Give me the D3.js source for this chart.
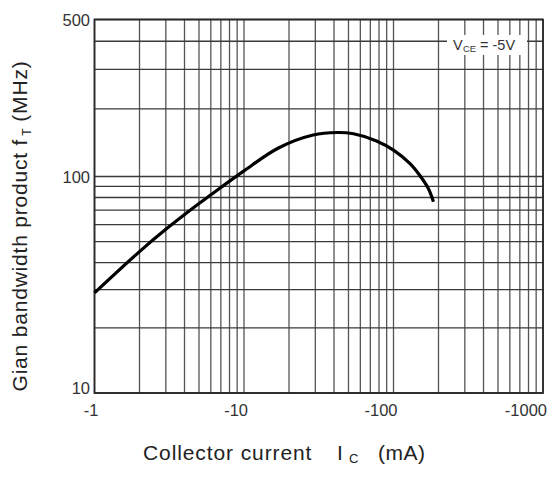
<!DOCTYPE html>
<html>
<head>
<meta charset="utf-8">
<script src="https://cdn.jsdelivr.net/npm/d3@7"></script>
<style>
  body { margin: 0; background: #fff; }
  svg { display: block; font-family: "Liberation Sans", Arial, sans-serif; }
</style>
</head>
<body>
<svg id="chart" width="550" height="478"></svg>
<script>
// collector current (mA, shown negative) vs transition frequency (MHz)
const currentMA = [1, 2, 3, 5, 7, 10, 17, 29, 42, 54, 77, 100, 129, 150, 171, 185]
const ftMHz = [29, 45, 57, 75, 89, 106, 134, 153, 157, 155, 144, 131, 114, 101, 88, 76.5]

const xTicks = [1, 10, 100, 1000]
const xTickLabels = ['-1', '-10', '-100', '-1000']
const yTicks = [10, 100, 500]
const yTickLabels = ['10', '100', '500']

const xGrid = []
for (let d = 1; d <= 100; d *= 10) {
  for (let k = 1; k <= 9; k++) xGrid.push(d * k)
}
xGrid.push(1000)
const yGrid = [10, 20, 30, 40, 50, 60, 70, 80, 90, 100, 200, 300, 400, 500]

const svg = d3.select('#chart')

const x = d3.scaleLog().domain([1, 1000]).range([94.5, 543])
const y = d3.scaleLog().domain([10, 100, 500]).range([393, 176.5, 19.5])

const grid = svg.append('g')
grid.selectAll('line.v')
  .data(xGrid)
  .enter().append('line')
  .attr('x1', d => x(d)).attr('x2', d => x(d))
  .attr('y1', y(500)).attr('y2', y(10))
  .attr('stroke', '#555')
  .attr('stroke-width', 1.3)

grid.selectAll('line.h')
  .data(yGrid)
  .enter().append('line')
  .attr('x1', x(1)).attr('x2', x(1000))
  .attr('y1', d => y(d)).attr('y2', d => y(d))
  .attr('stroke', '#3a3a3a')
  .attr('stroke-width', 1.3)

// frame
svg.append('rect')
  .attr('x', x(1)).attr('y', y(500))
  .attr('width', x(1000) - x(1)).attr('height', y(10) - y(500))
  .attr('fill', 'none')
  .attr('stroke', '#2a2a2a')
  .attr('stroke-width', 1.8)

// condition label with white box
svg.append('rect')
  .attr('x', 447).attr('y', 35)
  .attr('width', 80).attr('height', 20)
  .attr('fill', '#fff')

const condY = 49.5
svg.append('text')
  .attr('x', 453).attr('y', condY)
  .attr('font-size', 14.5).attr('fill', '#333')
  .text('V')
svg.append('text')
  .attr('x', 463).attr('y', condY + 2)
  .attr('font-size', 9.5).attr('fill', '#333')
  .text('CE')
svg.append('text')
  .attr('x', 480).attr('y', condY)
  .attr('font-size', 14.5).attr('fill', '#333')
  .text('= -5V')

// curve
const line = d3.line()
  .x((d, i) => x(currentMA[i]))
  .y(d => y(d))
  .curve(d3.curveCatmullRom.alpha(0.5))

svg.append('path')
  .datum(ftMHz)
  .attr('d', line)
  .attr('fill', 'none')
  .attr('stroke', '#000')
  .attr('stroke-width', 3.2)

// tick labels
svg.selectAll('text.xt')
  .data(xTicks)
  .enter().append('text')
  .attr('x', d => x(d) + 4)
  .attr('y', 416)
  .attr('text-anchor', 'end')
  .attr('font-size', 16.5)
  .attr('fill', '#333')
  .text((d, i) => xTickLabels[i])

svg.selectAll('text.yt')
  .data(yTicks)
  .enter().append('text')
  .attr('x', 90)
  .attr('y', d => d === 10 ? y(d) - 5 : y(d) + 1)
  .attr('dy', '0.35em')
  .attr('text-anchor', 'end')
  .attr('font-size', 16.5)
  .attr('fill', '#333')
  .text((d, i) => yTickLabels[i])

// axis titles
const titleY = 460
svg.append('text')
  .attr('x', 143).attr('y', titleY)
  .attr('font-size', 21).attr('letter-spacing', 0.9)
  .attr('fill', '#222')
  .text('Collector current')
svg.append('text')
  .attr('x', 337).attr('y', titleY)
  .attr('font-size', 21).attr('fill', '#222')
  .text('I')
svg.append('text')
  .attr('x', 349).attr('y', titleY + 3)
  .attr('font-size', 13).attr('fill', '#222')
  .text('C')
svg.append('text')
  .attr('x', 378).attr('y', titleY)
  .attr('font-size', 21).attr('letter-spacing', 0.5)
  .attr('fill', '#222')
  .text('(mA)')

const yt = svg.append('text')
  .attr('transform', 'translate(27,226) rotate(-90)')
  .attr('text-anchor', 'middle')
  .attr('font-size', 21)
  .attr('letter-spacing', 0.8)
  .attr('fill', '#222')
yt.append('tspan').text('Gian bandwidth product f')
yt.append('tspan').attr('font-size', 12).attr('dx', 3).attr('dy', 4).text('T')
yt.append('tspan').attr('dx', 6).attr('dy', -4).text('(MHz)')
</script>
</body>
</html>
